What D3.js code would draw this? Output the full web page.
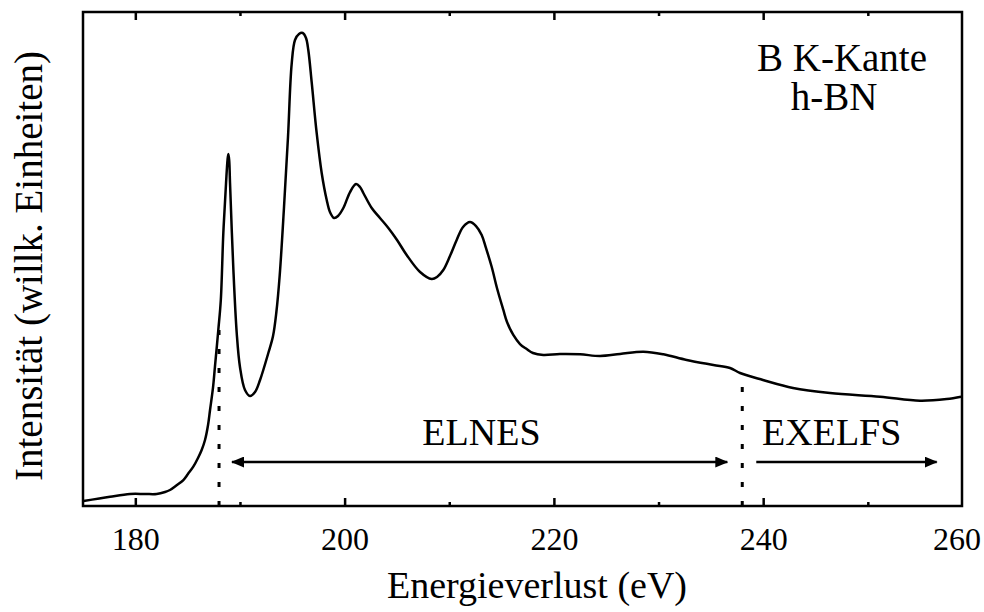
<!DOCTYPE html>
<html>
<head>
<meta charset="utf-8">
<script src="https://cdn.jsdelivr.net/npm/d3@7"></script>
<style>
  html, body { margin: 0; padding: 0; background: #fff; }
  svg { display: block; }
  svg text { font-family: "Liberation Serif", Tinos, "Times New Roman", Times, "DejaVu Serif", serif !important; fill: #000; }
</style>
</head>
<body>
<div id="chart"></div>
<script>
// B K edge of h-BN, energy loss (eV) vs intensity (arb. units)
var energy = [175.05, 177.58, 179.49, 180.93, 182.04, 182.84, 183.31, 183.98, 184.59, 185.03,
  185.54, 185.99, 186.34, 186.66, 186.95, 187.14, 187.42, 187.61, 187.93, 188.17,
  188.41, 188.67, 188.81, 188.89, 188.97, 189.05, 189.36, 189.69, 190.00, 190.48,
  190.96, 191.44, 191.92, 192.71, 193.16, 193.48, 193.80, 194.21, 194.59, 194.94,
  195.26, 195.64, 196.00, 196.31, 196.53, 196.86, 197.33, 197.81, 198.29, 198.60,
  198.99, 199.37, 199.88, 200.52, 201.09, 201.47, 201.79, 202.59, 203.38, 204.18,
  205.01, 205.93, 207.21, 208.32, 208.83, 209.43, 210.07, 210.71, 211.32, 211.98,
  212.56, 213.10, 213.51, 214.06, 214.56, 215.17, 215.52, 216.12, 216.76, 217.40,
  218.00, 218.99, 220.58, 222.50, 224.41, 226.32, 228.55, 230.46, 232.69, 235.24,
  236.83, 237.79, 239.98, 242.85, 246.39, 251.17, 254.99, 257.54, 258.91];
var intensity = [1.01, 1.88, 2.43, 2.43, 2.43, 2.83, 3.24, 4.25, 5.26, 6.48,
  7.96, 9.72, 11.34, 13.36, 16.40, 19.43, 23.89, 28.20, 35.63, 41.70,
  55.26, 65.38, 70.04, 71.26, 70.04, 65.38, 48.38, 35.02, 28.14, 23.48,
  22.27, 23.08, 25.51, 30.97, 34.41, 39.27, 46.76, 60.53, 74.70, 89.47,
  94.33, 95.55, 95.75, 94.74, 92.31, 85.63, 75.51, 67.41, 61.94, 59.51,
  58.30, 58.70, 60.32, 63.56, 65.18, 64.57, 63.36, 60.32, 58.30, 56.28,
  53.85, 50.81, 47.37, 45.95, 46.36, 47.77, 50.61, 53.85, 56.48, 57.49,
  56.68, 54.86, 52.23, 48.38, 44.13, 39.68, 37.25, 34.62, 32.79, 31.78,
  30.97, 30.57, 30.77, 30.71, 30.36, 30.77, 31.23, 30.71, 29.55, 28.54,
  27.94, 26.92, 25.51, 23.89, 22.87, 22.13, 21.32, 21.66, 22.13];

var majorTicks = [180, 200, 220, 240];
var minorTicks = [190, 210, 230, 250];
var lastTickLabel = "260";

// region boundaries (eV) and how high the dotted marker reaches
var edgeEnergy = [188, 238];
var edgeTop = [36.0, 24.5];

// region arrows: [from, to] in eV, labels above them
var regionNames = ["ELNES", "EXELFS"];
var regionFrom = [189.24, 239.34];
var regionTo = [236.57, 256.58];
var regionLabelAt = [213.08, 246.55];
var arrowLevel = 8.9;

var legendLines = ["B K-Kante", "h-BN"];

var serif = "'Liberation Serif', Tinos, 'Times New Roman', Times, 'DejaVu Serif', serif";

var width = 984, height = 612;
var margin = { top: 12, right: 22, bottom: 106, left: 83 };
var chartWidth = width - margin.left - margin.right;
var chartHeight = height - margin.top - margin.bottom;

var svg = d3.select("#chart").append("svg")
  .attr("width", width)
  .attr("height", height)
  .attr("font-family", serif);

var defs = svg.append("defs");
defs.append("marker")
  .attr("id", "head")
  .attr("markerUnits", "userSpaceOnUse")
  .attr("viewBox", "0 0 13 11")
  .attr("refX", 12).attr("refY", 5.5)
  .attr("markerWidth", 13).attr("markerHeight", 11)
  .attr("orient", "auto-start-reverse")
  .append("path")
  .attr("d", "M0,0 L13,5.5 L0,11 Z")
  .attr("fill", "#000");

var g = svg.append("g").attr("transform", "translate(" + margin.left + "," + margin.top + ")");

var x = d3.scaleLinear().domain([175, 259]).range([0, chartWidth]);
var y = d3.scaleLinear().domain([0, 100]).range([chartHeight, 0]);

// ticks, pointing inward, on bottom and top
function tickAxis(axisFn, values, size, labels) {
  return axisFn(x).tickValues(values).tickSizeInner(-size).tickSizeOuter(0)
    .tickPadding(21).tickFormat(labels ? d3.format("d") : "");
}

var bottomMajor = g.append("g").attr("transform", "translate(0," + chartHeight + ")")
  .call(tickAxis(d3.axisBottom, majorTicks, 8, true));
g.append("g").attr("transform", "translate(0," + chartHeight + ")")
  .call(tickAxis(d3.axisBottom, minorTicks, 4, false));
g.append("g").call(tickAxis(d3.axisTop, majorTicks, 8, false));
g.append("g").call(tickAxis(d3.axisTop, minorTicks, 4, false));

g.selectAll("g").attr("font-family", serif);
g.selectAll(".tick line").attr("stroke", "#000").attr("stroke-width", 2.5);
g.selectAll(".domain").remove();
bottomMajor.selectAll(".tick text")
  .attr("font-size", 32).attr("fill", "#000");

g.append("text")
  .attr("x", chartWidth - 5)
  .attr("y", chartHeight + 44)
  .attr("text-anchor", "middle")
  .attr("font-size", 32)
  .text(lastTickLabel);

// spectrum
var line = d3.line()
  .x(function (d) { return x(d[0]); })
  .y(function (d) { return y(d[1]); })
  .curve(d3.curveCatmullRom.alpha(0.5));

g.append("path")
  .datum(d3.zip(energy, intensity))
  .attr("fill", "none")
  .attr("stroke", "#000")
  .attr("stroke-width", 2.5)
  .attr("stroke-linejoin", "round")
  .attr("d", line);

// dotted edge markers
g.selectAll(".edge")
  .data(edgeEnergy)
  .enter().append("line")
  .attr("class", "edge")
  .attr("x1", function (d) { return x(d); })
  .attr("x2", function (d) { return x(d); })
  .attr("y1", chartHeight)
  .attr("y2", function (d, i) { return y(edgeTop[i]); })
  .attr("stroke", "#000")
  .attr("stroke-width", 3)
  .attr("stroke-dasharray", "5,14");

// region arrows: ELNES double headed, EXELFS single
g.selectAll(".region")
  .data(regionNames)
  .enter().append("line")
  .attr("class", "region")
  .attr("x1", function (d, i) { return x(regionFrom[i]); })
  .attr("x2", function (d, i) { return x(regionTo[i]); })
  .attr("y1", y(arrowLevel))
  .attr("y2", y(arrowLevel))
  .attr("stroke", "#000")
  .attr("stroke-width", 2.5)
  .attr("marker-start", function (d, i) { return i === 0 ? "url(#head)" : null; })
  .attr("marker-end", "url(#head)");

g.selectAll(".regionLabel")
  .data(regionNames)
  .enter().append("text")
  .attr("class", "regionLabel")
  .attr("x", function (d, i) { return x(regionLabelAt[i]); })
  .attr("y", y(arrowLevel) - 17)
  .attr("text-anchor", "middle")
  .attr("font-size", 38)
  .text(function (d) { return d; });

// frame
g.append("rect")
  .attr("width", chartWidth)
  .attr("height", chartHeight)
  .attr("fill", "none")
  .attr("stroke", "#000")
  .attr("stroke-width", 2.5);

// legend text, two centred lines in the top right corner
var legendX = [759, 751];
g.selectAll(".legend")
  .data(legendLines)
  .enter().append("text")
  .attr("class", "legend")
  .attr("x", function (d, i) { return legendX[i]; })
  .attr("y", function (d, i) { return 59 + i * 39; })
  .attr("text-anchor", "middle")
  .attr("font-size", 39)
  .text(function (d) { return d; });

// axis titles
svg.append("text")
  .attr("x", 537).attr("y", 598)
  .attr("text-anchor", "middle")
  .attr("font-size", 38)
  .text("Energieverlust (eV)");

svg.append("text")
  .attr("transform", "translate(42,266) rotate(-90)")
  .attr("text-anchor", "middle")
  .attr("font-size", 39)
  .text("Intensität (willk. Einheiten)");
</script>
</body>
</html>
